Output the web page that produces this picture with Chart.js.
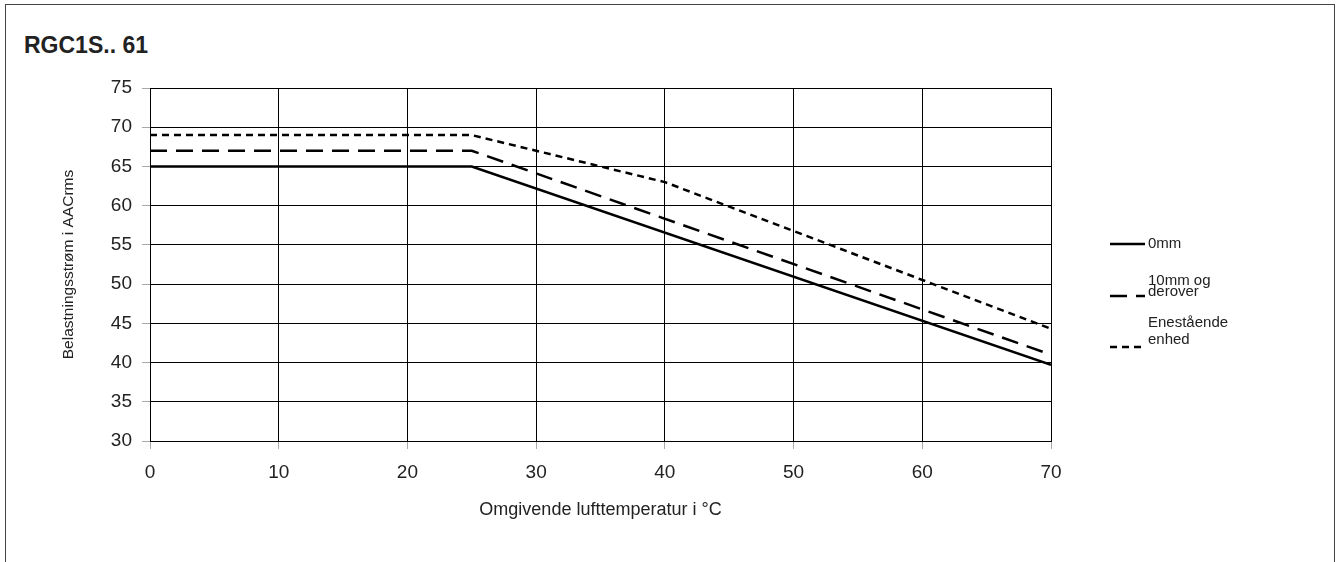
<!DOCTYPE html>
<html>
<head>
<meta charset="utf-8">
<script src="https://cdn.jsdelivr.net/npm/chart.js@4"></script>
<style>
  body { margin: 0; background: #fff; }
  #wrap { position: relative; width: 1336px; height: 562px; overflow: hidden; }
  #frame { position: absolute; left: 5px; top: 4px; width: 1330px; height: 620px;
           border: 1.5px solid #444; box-sizing: border-box; }
  #title { position: absolute; left: 24px; top: 32px; line-height: 23px;
           font: bold 23px "Liberation Sans", Arial, sans-serif; color: #222; }
  canvas { position: absolute; left: 0; top: 0; }
</style>
</head>
<body>
<div id="wrap">
  <div id="frame"></div>
  <div id="title">RGC1S.. 61</div>
  <canvas id="c" width="1336" height="562"></canvas>
</div>
<script>
// ===== DATA =====
const xTicks = [0, 10, 20, 30, 40, 50, 60, 70];
const yTicks = [30, 35, 40, 45, 50, 55, 60, 65, 70, 75];

const x0mm  = [0, 25, 70];
const y0mm  = [65, 65, 39.7];
const x10mm = [0, 25, 70];
const y10mm = [67, 67, 41];
const xEne  = [0, 25, 40, 70];
const yEne  = [69, 69, 63, 44.3];

const seriesLabels = [['0mm'], ['10mm og', 'derover'], ['Enestående', 'enhed']];

const FONT = '"Liberation Sans", Arial, sans-serif';
const pts = (xs, ys) => xs.map((x, i) => ({ x: x, y: ys[i] }));

// ======== LEGEND (drawn right of plot) ========
const sideLegend = {
  id: 'sideLegend',
  afterDraw(chart) {
    const ctx = chart.ctx;
    const rows = [
      { lineY: 244, textY: [244] },
      { lineY: 296, textY: [281, 292] },
      { lineY: 347, textY: [323, 340] },
    ];
    ctx.save();
    rows.forEach((r, i) => {
      const ds = chart.data.datasets[i];
      ctx.strokeStyle = '#000';
      ctx.lineWidth = 2.5;
      ctx.setLineDash(ds.borderDash || []);
      ctx.beginPath();
      ctx.moveTo(1110, r.lineY);
      ctx.lineTo(1145, r.lineY);
      ctx.stroke();
      ctx.setLineDash([]);
      ctx.fillStyle = '#222';
      ctx.font = '15px ' + FONT;
      ctx.textBaseline = 'middle';
      seriesLabels[i].forEach((t, j) => ctx.fillText(t, 1148, r.textY[j]));
    });
    ctx.restore();
  }
};

new Chart(document.getElementById('c'), {
  type: 'line',
  data: {
    datasets: [
      { label: '0mm', data: pts(x0mm, y0mm), borderColor: '#000', borderWidth: 2.5, pointRadius: 0, fill: false },
      { label: '10mm og derover', data: pts(x10mm, y10mm), borderColor: '#000', borderWidth: 2.5, borderDash: [17, 9], pointRadius: 0, fill: false },
      { label: 'Enestående enhed', data: pts(xEne, yEne), borderColor: '#000', borderWidth: 2.5, borderDash: [7, 5], pointRadius: 0, fill: false },
    ],
  },
  options: {
    responsive: false, animation: false,
    layout: { padding: { left: 0, top: 88, right: 285, bottom: 0 } },
    plugins: { legend: { display: false }, tooltip: { enabled: false } },
    scales: {
      x: {
        type: 'linear', min: 0, max: 70,
        afterBuildTicks: s => { s.ticks = xTicks.map(v => ({ value: v })); },
        afterFit: s => { s.height = 562 - 441; },
        grid: { color: '#000', lineWidth: 1, tickColor: '#aaa', tickLength: 8 },
        border: { color: '#000' },
        ticks: { color: '#222', font: { family: FONT, size: 19 }, padding: 12 },
        title: { display: true, text: 'Omgivende lufttemperatur i °C', color: '#222',
                 font: { family: FONT, size: 18 }, padding: { top: 0, bottom: 41 } },
      },
      y: {
        min: 30, max: 75,
        afterBuildTicks: s => { s.ticks = yTicks.map(v => ({ value: v })); },
        afterFit: s => { s.width = 150; },
        grid: { color: '#000', lineWidth: 1, tickColor: '#aaa', tickLength: 8 },
        border: { color: '#000' },
        ticks: { color: '#222', font: { family: FONT, size: 19 }, padding: 10 },
        title: { display: true, text: 'Belastningsstrøm i AACrms', color: '#222',
                 font: { family: FONT, size: 15.5 }, padding: { top: 59, bottom: 0 } },
      },
    },
  },
  plugins: [sideLegend],
});
</script>
</body>
</html>
